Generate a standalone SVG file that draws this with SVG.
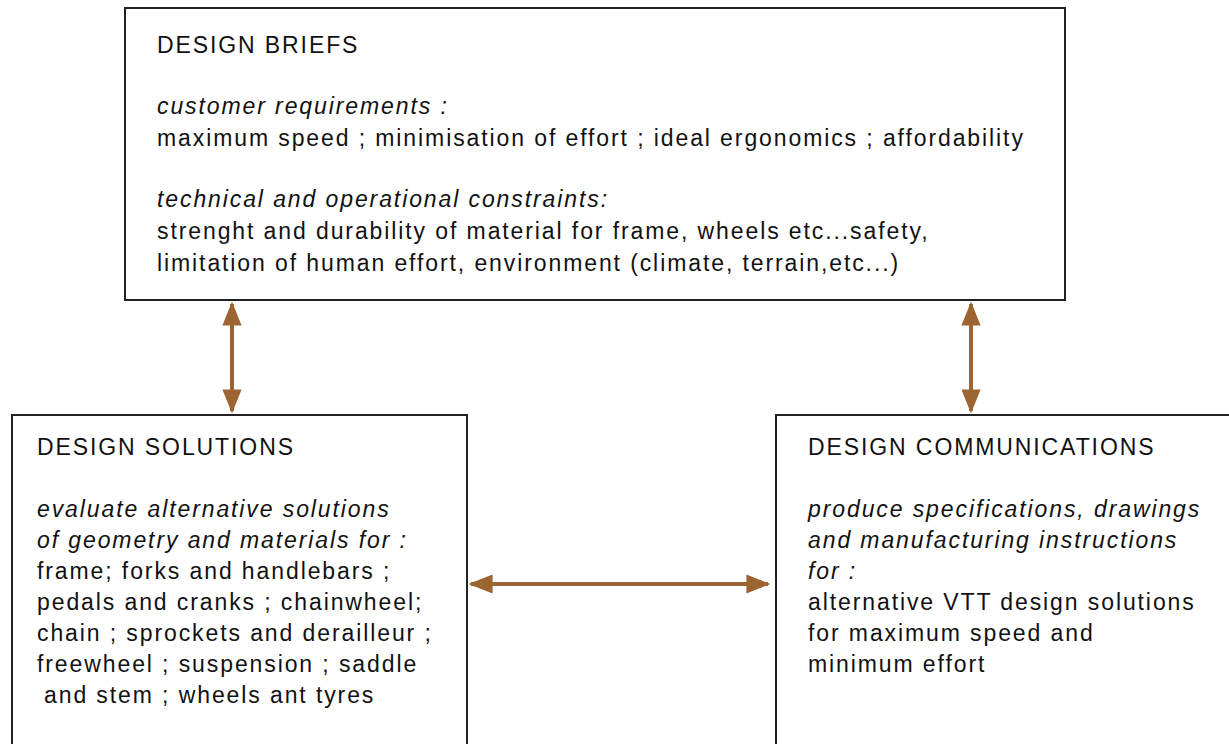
<svg xmlns="http://www.w3.org/2000/svg" width="1229" height="744" viewBox="0 0 1229 744">
<defs>
<style>
.box{fill:#fff;stroke:#222;stroke-width:2}
text{font-family:"Liberation Sans",Arial,sans-serif;font-size:23px;fill:#111;letter-spacing:1.9px}
.i{font-style:italic}
.c{stroke:#9C6430;stroke-width:4;fill:none}
</style>
<marker id="ah" viewBox="0 0 10 10" refX="9" refY="5" markerWidth="6" markerHeight="6" markerUnits="strokeWidth" orient="auto-start-reverse">
<path d="M0,1 L10,5 L0,9 z" fill="#9C6430"/>
</marker>
</defs>
<rect width="1229" height="744" fill="#fff"/>
<g id="briefs">
<rect class="box" x="125" y="8" width="940" height="292"/>
<text x="157" y="53">DESIGN BRIEFS</text>
<text x="157" y="114" class="i">customer requirements :</text>
<text x="157" y="146">maximum speed ; minimisation of effort ; ideal ergonomics ; affordability</text>
<text x="157" y="207" class="i">technical and operational constraints:</text>
<text x="157" y="239">strenght and durability of material for frame, wheels etc...safety,</text>
<text x="157" y="271">limitation of human effort, environment (climate, terrain,etc...)</text>
</g>
<g id="solutions">
<rect class="box" x="12" y="415" width="455" height="340"/>
<text x="37" y="455">DESIGN SOLUTIONS</text>
<text x="37" y="517" class="i">evaluate alternative solutions</text>
<text x="37" y="548" class="i">of geometry and materials for :</text>
<text x="37" y="579">frame; forks and handlebars ;</text>
<text x="37" y="610">pedals and cranks ; chainwheel;</text>
<text x="37" y="641">chain ; sprockets and derailleur ;</text>
<text x="37" y="672">freewheel ; suspension ; saddle</text>
<text x="44" y="703">and stem ; wheels ant tyres</text>
</g>
<g id="communications">
<rect class="box" x="776" y="415" width="470" height="340"/>
<text x="808" y="455">DESIGN COMMUNICATIONS</text>
<text x="808" y="517" class="i">produce specifications, drawings</text>
<text x="808" y="548" class="i">and manufacturing instructions</text>
<text x="808" y="579" class="i">for :</text>
<text x="808" y="610">alternative VTT design solutions</text>
<text x="808" y="641">for maximum speed and</text>
<text x="808" y="672">minimum effort</text>
</g>
<g id="connectors">
<line class="c" x1="232" y1="304" x2="232" y2="411" marker-start="url(#ah)" marker-end="url(#ah)"/>
<line class="c" x1="971" y1="304" x2="971" y2="411" marker-start="url(#ah)" marker-end="url(#ah)"/>
<line class="c" x1="471" y1="584" x2="768" y2="584" marker-start="url(#ah)" marker-end="url(#ah)"/>
</g>
</svg>
